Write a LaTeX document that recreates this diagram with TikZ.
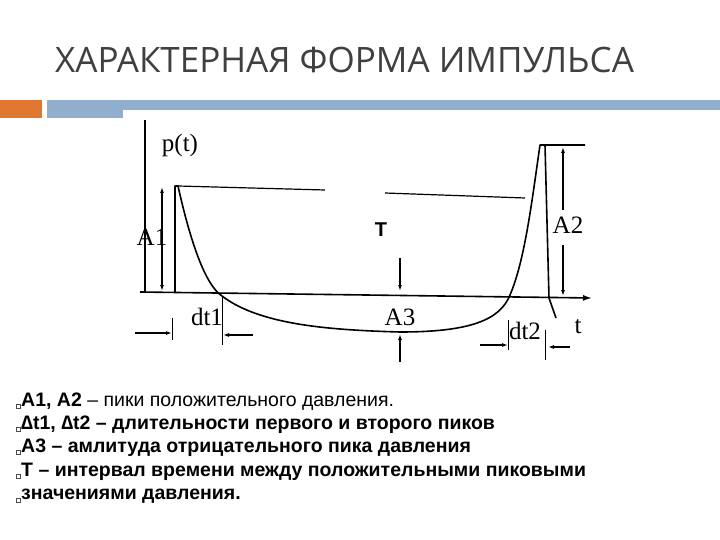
\documentclass[tikz,border=0pt]{standalone}
\usepackage{fontspec}
\setmainfont{Liberation Serif}
\newfontfamily\sansf{Liberation Sans}
\newfontfamily\titlef{Open Sans}
\usetikzlibrary{arrows.meta}
\definecolor{orng}{RGB}{224,120,50}
\definecolor{blu}{RGB}{145,175,205}
\tikzset{x=1pt,y=-1pt,
 crv/.style={line width=1.6pt,line join=round},
 dim/.style={line width=1.2pt,-{Latex[length=6pt,width=4pt]}},
 lbl/.style={font=\fontsize{25}{25}\selectfont},
 bul/.style={anchor=west,font=\sansf\bfseries\fontsize{19.5}{20}\selectfont,inner sep=0pt}}
\begin{document}
\begin{tikzpicture}
\useasboundingbox (0,0) rectangle (720,540);
\fill[white] (0,0) rectangle (720,540);
\node[anchor=west,text=black!75,font=\titlef\fontsize{35}{36}\selectfont,inner sep=0pt] (title) at (55,60) {ХАРАКТЕРНАЯ ФОРМА ИМПУЛЬСА};
\fill[orng] (0,100) rectangle (42,118);
\fill[blu] (47,100) rectangle (720,110);
\fill[blu] (47,110) rectangle (123,118);
% axes
\coordinate (o) at (140,292);
\coordinate (te) at (592,298);
\coordinate (pe) at (145,120);
\draw[crv,-{Latex[length=9pt,width=6pt]}] (o) -- (te);
\draw[crv] (145,292) -- (pe);
% pulse
\draw[crv] (175,292) -- (175,186) -- (178,186)
  .. controls (190,240) and (205,285) .. (222,296)
  .. controls (260,325) and (330,330) .. (400,332)
  .. controls (470,332) and (500,320) .. (510,295)
  .. controls (525,260) and (532,200) .. (540,145) -- (585,145);
\draw[crv] (545,145) -- (549,298) -- (556,318);
% reference line
\draw[line width=1.2pt] (178,186) -- (325,190);
\draw[line width=1.2pt] (385,193) -- (525,198);
% dimension arrows
\draw[dim] (162,240) -- (162,187);
\draw[dim] (162,240) -- (162,291);
\draw[dim] (563,210) -- (563,147);
\draw[dim] (563,245) -- (563,296);
\draw[dim] (400,258) -- (400,291);
\draw[dim] (400,362) -- (400,334);
\draw[dim] (135,333) -- (172,333);
\draw[line width=1pt] (172,318) -- (172,340);
\draw[line width=1pt] (222,296) -- (222,345);
\draw[dim] (253,335) -- (223,335);
\draw[dim] (480,345) -- (508,345);
\draw[line width=1pt] (508,320) -- (508,350);
\draw[dim] (570,347) -- (548,347);
\draw[line width=1pt] (545,330) -- (545,360);
% labels
\node[lbl] (lp) at (180,145) {p(t)};
\node[lbl] (la1) at (152,237) {A1};
\node[font=\sansf\bfseries\fontsize{20}{20}\selectfont] (lT) at (381,230) {T};
\node[lbl] (la2) at (568,225) {A2};
\node[lbl] (ld1) at (207,317) {dt1};
\node[lbl] (la3) at (400,317) {A3};
\node[lbl] (ld2) at (525,331) {dt2};
\node[lbl] (lt) at (578,327) {t};
% bullets
\foreach \yy in {402,425,448,472,496}{\draw[black!70,line width=0.4pt] (16,\yy+2) rectangle (20,\yy+6);}
\node[bul] (b1) at (21,402) {A1, A2 {\mdseries – пики положительного давления.}};
\node[bul] (b2) at (21,425) {∆t1, ∆t2 – длительности первого и второго пиков};
\node[bul] (b3) at (21,448) {A3 – амлитуда отрицательного пика давления};
\node[bul] (b4) at (21,472) {T – интервал времени между положительными пиковыми};
\node[bul] (b5) at (21,496) {значениями давления.};
\end{tikzpicture}
\end{document}
